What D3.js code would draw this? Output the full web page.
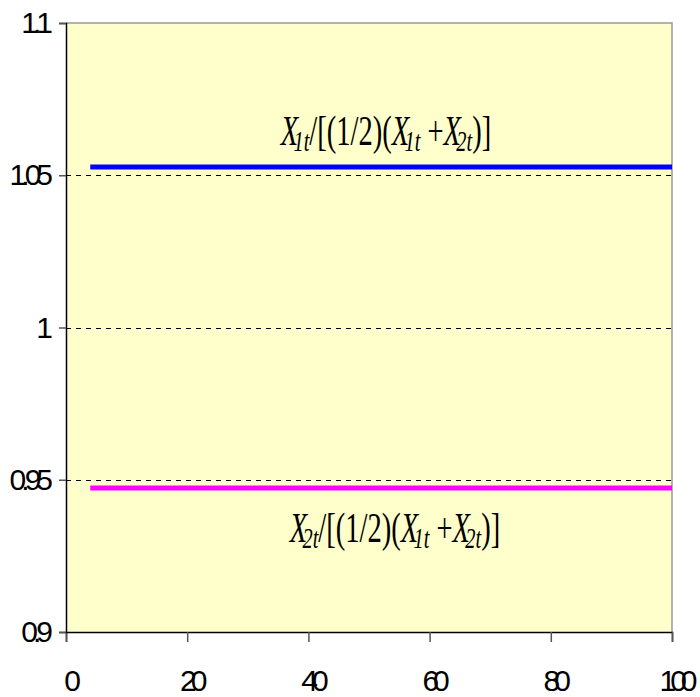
<!DOCTYPE html>
<html>
<head>
<meta charset="utf-8">
<script src="https://cdn.jsdelivr.net/npm/d3@7"></script>
<style>
	body { margin: 0; background: #fff; }
</style>
</head>
<body>
<div id="graphicContainer"></div>
<script>
// data
var periods = [4, 100]
var share1 = [1.0527, 1.0527]
var share2 = [0.9473, 0.9473]
var xTicks = [0, 20, 40, 60, 80, 100]
var yTicks = [0.9, 0.95, 1, 1.05, 1.1]
var yTickLabels = ["0.9", "0.95", "1", "1.05", "1.1"]
var gridValues = [0.95, 1, 1.05]

var width = 700
var height = 697
var margin = {top: 23, right: 28, bottom: 65, left: 66}

var svg = d3.select("#graphicContainer").append("svg")
	.attr("width", width)
	.attr("height", height)

var x = d3.scaleLinear()
	.domain([0, 100])
	.range([margin.left, width - margin.right])

var y = d3.scaleLinear()
	.domain([0.9, 1.1])
	.range([height - margin.bottom, margin.top])

// plot background
svg.append("rect")
	.attr("x", x(0))
	.attr("y", y(1.1))
	.attr("width", x(100) - x(0))
	.attr("height", y(0.9) - y(1.1))
	.attr("fill", "#ffffcc")

// top and right border
svg.append("path")
	.attr("fill", "none")
	.attr("stroke", "#999")
	.attr("stroke-width", 1.5)
	.attr("d", `M${x(0)},${y(1.1)}H${x(100)}V${y(0.9)}`)

// dashed grid
svg.append("g")
	.selectAll("line")
	.data(gridValues)
	.join("line")
		.attr("x1", x(0))
		.attr("x2", x(100))
		.attr("y1", d => Math.round(y(d)) + 0.5)
		.attr("y2", d => Math.round(y(d)) + 0.5)
		.attr("stroke", "#000")
		.attr("stroke-width", 1)
		.attr("stroke-dasharray", "5,5")

// series
var line = d3.line()
	.x(d => x(d[0]))
	.y(d => y(d[1]))

svg.append("path")
	.datum(d3.zip(periods, share1))
	.attr("fill", "none")
	.attr("stroke", "#0000ff")
	.attr("stroke-width", 5)
	.attr("d", line)

svg.append("path")
	.datum(d3.zip(periods, share2))
	.attr("fill", "none")
	.attr("stroke", "#ff00ff")
	.attr("stroke-width", 5)
	.attr("d", line)

// axes
var xAxis = d3.axisBottom(x)
	.tickValues(xTicks)
	.tickSize(10)
	.tickPadding(28)
	.tickFormat(d3.format("d"))

var yAxis = d3.axisLeft(y)
	.tickValues(yTicks)
	.tickSize(7)
	.tickPadding(11)
	.tickFormat((d, i) => yTickLabels[i])

svg.append("g")
	.attr("transform", `translate(0,${y(0.9)})`)
	.call(xAxis)
	.call(g => g.select(".domain").attr("stroke", "#000").attr("stroke-width", 1.5))
	.call(g => g.selectAll(".tick line").attr("stroke", "#555").attr("stroke-width", 1.5))
	.call(g => g.selectAll(".tick text")
		.attr("font-family", "'Liberation Sans', Arial, sans-serif")
		.attr("font-size", 30)
		.attr("letter-spacing", "-6px")
		.attr("dx", "3px")
		.attr("fill", "#000"))

svg.append("g")
	.attr("transform", `translate(${x(0)},0)`)
	.call(yAxis)
	.call(g => g.select(".domain").attr("stroke", "#000").attr("stroke-width", 1.5))
	.call(g => g.selectAll(".tick line").attr("stroke", "#555").attr("stroke-width", 1.5))
	.call(g => g.selectAll(".tick text")
		.attr("font-family", "'Liberation Sans', Arial, sans-serif")
		.attr("font-size", 30)
		.attr("letter-spacing", "-5px")
		.attr("fill", "#000"))

// series labels, condensed like the original
function seriesLabel(cx, baseline, first) {
	var t = svg.append("g")
		.attr("transform", `translate(${cx},${baseline}) scale(0.68,1)`)
	  .append("text")
		.attr("text-anchor", "middle")
		.attr("font-family", "'Liberation Serif', 'Times New Roman', serif")
		.attr("font-size", 42)
		.attr("fill", "#000")
	t.append("tspan").attr("font-style", "italic").text("X")
	t.append("tspan").attr("font-style", "italic").attr("font-size", 30).attr("dx", -7).attr("dy", 6).text(first + "t")
	t.append("tspan").attr("dy", -6).text("/[(1/2)(")
	t.append("tspan").attr("font-style", "italic").text("X")
	t.append("tspan").attr("font-style", "italic").attr("font-size", 30).attr("dx", -7).attr("dy", 6).text("1t")
	t.append("tspan").attr("dy", -6).text(" +")
	t.append("tspan").attr("font-style", "italic").text("X")
	t.append("tspan").attr("font-style", "italic").attr("font-size", 30).attr("dx", -7).attr("dy", 6).text("2t")
	t.append("tspan").attr("dy", -6).text(")]")
}

seriesLabel(386, 145, "1")
seriesLabel(395, 542, "2")
</script>
</body>
</html>
